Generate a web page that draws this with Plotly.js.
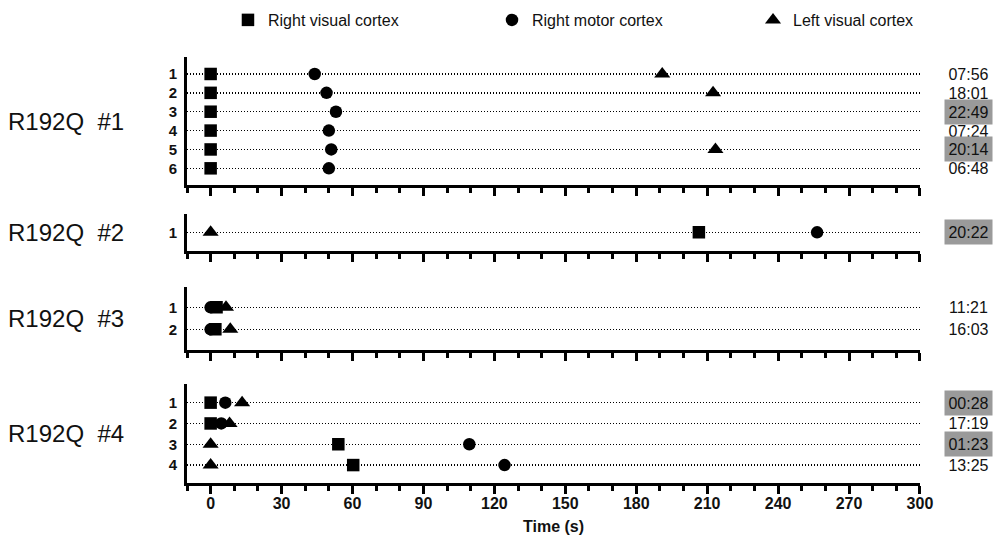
<!DOCTYPE html>
<html>
<head>
<meta charset="utf-8">
<script src="https://cdn.plot.ly/plotly-3.0.1.min.js"></script>
<style>html,body{margin:0;padding:0;background:#fff;}#chart{width:1002px;height:540px;}</style>
</head>
<body>
<div id="chart"></div>
<script>
// ---- data ----
const groupLabels = ["R192Q\u00a0 #1", "R192Q\u00a0 #2", "R192Q\u00a0 #3", "R192Q\u00a0 #4"];
const seriesNames = ["Right visual cortex", "Right motor cortex", "Left visual cortex"];

const rows1 = [1, 2, 3, 4, 5, 6];
const rightVisual1 = [0, 0, 0, 0, 0, 0];
const rightMotor1 = [44, 49, 53, 50, 51, 50];
const leftVisual1 = [191, 212.5, null, null, 213.5, null];
const times1 = ["07:56", "18:01", "22:49", "07:24", "20:14", "06:48"];
const shaded1 = [false, false, true, false, true, false];

const rows2 = [1];
const rightVisual2 = [206.5];
const rightMotor2 = [256.5];
const leftVisual2 = [0];
const times2 = ["20:22"];
const shaded2 = [true];

const rows3 = [1, 2];
const rightVisual3 = [2.5, 2];
const rightMotor3 = [0, 0];
const leftVisual3 = [6.5, 8.3];
const times3 = ["11:21", "16:03"];
const shaded3 = [false, false];

const rows4 = [1, 2, 3, 4];
const rightVisual4 = [0, 0, 54, 60.3];
const rightMotor4 = [6.2, 4.5, 109.4, 124.3];
const leftVisual4 = [13.3, 8, 0, 0];
const times4 = ["00:28", "17:19", "01:23", "13:25"];
const shaded4 = [true, false, true, false];

const xTickVals = [0, 30, 60, 90, 120, 150, 180, 210, 240, 270, 300];
const xTickText = ["0", "30", "60", "90", "120", "150", "180", "210", "240", "270", "300"];

// ---- build ----
const panels = [
  {rows: rows1, rv: rightVisual1, rm: rightMotor1, lv: leftVisual1, times: times1, shaded: shaded1, domain: [0.6995, 1.0], range: [6.885, 0.10]},
  {rows: rows2, rv: rightVisual2, rm: rightMotor2, lv: leftVisual2, times: times2, shaded: shaded2, domain: [0.5453, 0.6315], range: [1.97, 0.03]},
  {rows: rows3, rv: rightVisual3, rm: rightMotor3, lv: leftVisual3, times: times3, shaded: shaded3, domain: [0.3122, 0.4594], range: [2.94, 0.09]},
  {rows: rows4, rv: rightVisual4, rm: rightMotor4, lv: leftVisual4, times: times4, shaded: shaded4, domain: [0.0, 0.2324], range: [4.862, 0.104]}
];

const FONT = "Liberation Sans, Arial, sans-serif";
const INK = "#111";
const symbols = ["square", "circle", "triangle-up"];
const sizes = [12.5, 12.5, 14];
const legendIds = ["legend", "legend2", "legend3"];

const traces = [];
const layout = {
  width: 1002, height: 540,
  margin: {l: 187, r: 82, t: 57, b: 57, autoexpand: false},
  paper_bgcolor: "#fff", plot_bgcolor: "#fff",
  font: {family: FONT, color: INK},
  showlegend: true,
  annotations: []
};

panels.forEach((p, i) => {
  const n = i === 0 ? "" : String(i + 1);
  const xa = "x" + n, ya = "y" + n;
  const seriesX = [p.rv, p.rm, p.lv];
  seriesX.forEach((xs, s) => {
    traces.push({
      type: "scatter", mode: "markers",
      x: xs, y: p.rows,
      xaxis: xa, yaxis: ya,
      name: seriesNames[s],
      legend: legendIds[s],
      showlegend: i === 0,
      marker: {symbol: symbols[s], size: sizes[s], color: "#000", line: {width: 0}},
      hoverinfo: "x+name"
    });
  });
  layout["xaxis" + n] = {
    anchor: ya, domain: [0, 1],
    range: [-10, 300.02],
    showgrid: false, zeroline: false,
    showline: true, linecolor: "#000", linewidth: 3,
    ticks: "outside", ticklen: 8, tickwidth: 3, tickcolor: "#000",
    tickmode: "array", tickvals: xTickVals, ticktext: xTickText.map(t => "<b>" + t + "</b>"),
    minor: {dtick: 10, tick0: 0, ticks: "outside", ticklen: 5, tickwidth: 3, tickcolor: "#000", showgrid: false},
    showticklabels: i === 3,
    tickfont: {family: FONT, size: 16, color: INK},
    ticklabelstandoff: -4,
    title: i === 3 ? {text: "<b>Time (s)</b>", font: {family: FONT, size: 16, color: INK}, standoff: 10} : {text: ""},
    automargin: false,
    fixedrange: true
  };
  layout["yaxis" + n] = {
    anchor: xa, domain: p.domain,
    range: p.range,
    tickmode: "array", tickvals: p.rows, ticktext: p.rows.map(r => "<b>" + r + "</b>"),
    tickfont: {family: FONT, size: 15, color: INK},
    ticks: "", ticklabelstandoff: 4,
    showline: true, linecolor: "#000", linewidth: 3,
    showgrid: true, gridcolor: "#000", gridwidth: 1.4, griddash: "1.4px,1.6px",
    zeroline: false, automargin: false, fixedrange: true
  };
  // group label
  layout.annotations.push({
    text: groupLabels[i], xref: "paper", x: -0.2469, xanchor: "left",
    yref: ya + " domain", y: 0.5, yanchor: "middle",
    showarrow: false, font: {family: FONT, size: 24, color: INK}
  });
  // time labels
  p.times.forEach((t, k) => {
    layout.annotations.push({
      text: t, xref: "paper", x: 1.0655, xanchor: "center",
      yref: ya, y: p.rows[k], yanchor: "middle",
      showarrow: false, width: 47, height: 24, borderpad: 0,
      bgcolor: p.shaded[k] ? "#9a9a9a" : "rgba(0,0,0,0)",
      font: {family: FONT, size: 16, color: INK}
    });
  });
});

const legendBase = {
  orientation: "h", xref: "paper", yref: "paper",
  yanchor: "middle", y: 1.0869, xanchor: "left",
  bgcolor: "rgba(0,0,0,0)", borderwidth: 0,
  font: {family: FONT, size: 16, color: INK}
};
layout.legend = Object.assign({}, legendBase, {x: 0.0559});
layout.legend2 = Object.assign({}, legendBase, {x: 0.4161});
layout.legend3 = Object.assign({}, legendBase, {x: 0.7722});

Plotly.newPlot("chart", traces, layout, {displayModeBar: false, staticPlot: true});
</script>
</body>
</html>
